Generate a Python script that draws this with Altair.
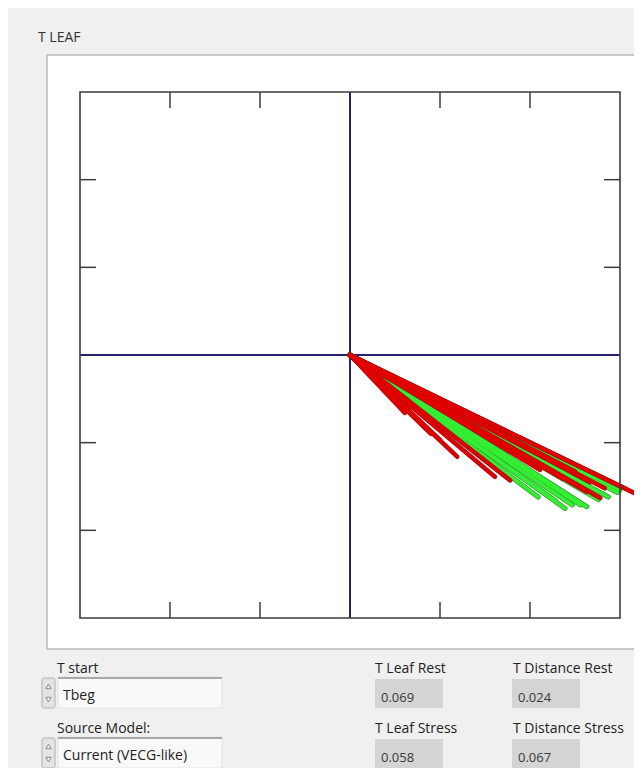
import altair as alt
import pandas as pd

# ---------------- data ----------------
title_text = "T LEAF"

# end points of the traces (each trace starts at the origin)
red_x = [0.61, 0.90, 1.00, 1.19, 1.61, 1.78, 2.11, 2.36, 2.50, 2.63, 2.67, 2.78, 2.83, 3.03, 3.29]
red_y = [-0.66, -0.90, -0.97, -1.16, -1.39, -1.43, -1.31, -1.41, -1.33, -1.56, -1.45, -1.63, -1.52, -1.51, -1.64]
green_x = [2.09, 2.22, 2.28, 2.39, 2.47, 2.56, 2.63, 2.76, 2.87, 2.97, 3.00]
green_y = [-1.62, -1.62, -1.66, -1.75, -1.71, -1.71, -1.73, -1.65, -1.62, -1.57, -1.54]

x_ticks = [-2, -1, 1, 2]
y_ticks = [-2, -1, 1, 2]
axis_domain = [-3, 3]

control_labels = ["T start", "Source Model:"]
control_values = ["Tbeg", "Current (VECG-like)"]
stat_labels = ["T Leaf Rest", "T Distance Rest", "T Leaf Stress", "T Distance Stress"]
stat_values = ["0.069", "0.024", "0.058", "0.067"]

# ---------------- build tables ----------------
def traces(xs, ys, prefix):
    rows = []
    for i, (xe, ye) in enumerate(zip(xs, ys)):
        rows.append({"id": f"{prefix}{i}", "o": 0, "x": 0.0, "y": 0.0})
        rows.append({"id": f"{prefix}{i}", "o": 1, "x": xe, "y": ye})
    return pd.DataFrame(rows)

red_df = traces(red_x, red_y, "r")
green_df = traces(green_x, green_y, "g")
xt_df = pd.DataFrame({"v": x_ticks})
yt_df = pd.DataFrame({"v": y_ticks})
zero_df = pd.DataFrame({"v": [0]})

W, H = 540, 526
FONT = "Open Sans"
xs = alt.Scale(domain=axis_domain, nice=False, zero=False)
ys = alt.Scale(domain=axis_domain, nice=False, zero=False)
X = lambda f: alt.X(f, scale=xs, axis=None)
Y = lambda f: alt.Y(f, scale=ys, axis=None)

dummy = alt.Data(values=[{"k": 1}])


def box(x, y, x2, y2, fill, stroke=None, sw=1, radius=0):
    kw = dict(fill=fill, clip=False)
    if stroke:
        kw.update(stroke=stroke, strokeWidth=sw)
    if radius:
        kw.update(cornerRadius=radius)
    return alt.Chart(dummy).mark_rect(**kw).encode(
        x=alt.value(x), x2=alt.value(x2), y=alt.value(y), y2=alt.value(y2))


def hline(x, x2, y, color, sw):
    return alt.Chart(dummy).mark_rule(color=color, strokeWidth=sw, clip=False).encode(
        x=alt.value(x), x2=alt.value(x2), y=alt.value(y))


def txt(s, x, y, size=14, color="#222222"):
    return alt.Chart(dummy).mark_text(
        text=s, align="left", baseline="alphabetic", font=FONT,
        fontSize=size, color=color, clip=False).encode(x=alt.value(x), y=alt.value(y))


def spinner(x, y, h):
    base = box(x, y, x + 13, y + h, "#e4e4e4", "#b0b0b0", 1, 2)
    up = alt.Chart(dummy).mark_point(shape="triangle-up", filled=True, size=28,
                                     color="#f4f4f4", stroke="#8a8a8a", strokeWidth=1,
                                     opacity=1).encode(
        x=alt.value(x + 6.5), y=alt.value(y + h * 0.28))
    dn = alt.Chart(dummy).mark_point(shape="triangle-down", filled=True, size=28,
                                     color="#f4f4f4", stroke="#8a8a8a", strokeWidth=1,
                                     opacity=1).encode(
        x=alt.value(x + 6.5), y=alt.value(y + h * 0.72))
    return [base, up, dn]


layers = []

# title and white panel
layers.append(txt(title_text, -42, -50, 14, "#333333"))
layers.append(box(-33, -37, 640, 557, "#ffffff", "#c9c9c9", 2))

# crosshair axes
layers.append(alt.Chart(zero_df).mark_rule(color="#24246e", strokeWidth=2).encode(x=X("v:Q")))
layers.append(alt.Chart(zero_df).mark_rule(color="#24246e", strokeWidth=2).encode(y=Y("v:Q")))

# traces: green first, red on top (dark edge + bright core)
def trace_layers(df, edge, core, w_edge, w_core):
    enc = dict(x=X("x:Q"), y=Y("y:Q"), detail="id:N", order="o:Q")
    return [
        alt.Chart(df).mark_line(color=edge, strokeWidth=w_edge, strokeCap="round", clip=False).encode(**enc),
        alt.Chart(df).mark_line(color=core, strokeWidth=w_core, strokeCap="round", clip=False).encode(**enc),
    ]

layers += trace_layers(green_df, "#2f9a2f", "#33ee33", 5.0, 3.6)
layers += trace_layers(red_df, "#a51010", "#e00000", 4.6, 3.2)

# frame
layers.append(alt.Chart(dummy).mark_rect(fill=None, filled=False, stroke="#3c3c3c", strokeWidth=1.6).encode(
    x=alt.value(0), x2=alt.value(W), y=alt.value(0), y2=alt.value(H)))

# inward ticks on all four sides
TL = 16
tick = dict(color="#3c3c3c", strokeWidth=1.5)
layers.append(alt.Chart(xt_df).mark_rule(**tick).encode(x=X("v:Q"), y=alt.value(0), y2=alt.value(TL)))
layers.append(alt.Chart(xt_df).mark_rule(**tick).encode(x=X("v:Q"), y=alt.value(H - TL), y2=alt.value(H)))
layers.append(alt.Chart(yt_df).mark_rule(**tick).encode(y=Y("v:Q"), x=alt.value(0), x2=alt.value(TL)))
layers.append(alt.Chart(yt_df).mark_rule(**tick).encode(y=Y("v:Q"), x=alt.value(W - TL), x2=alt.value(W)))

# ---------------- bottom controls ----------------
for row, (lab, val) in enumerate(zip(control_labels, control_values)):
    dy = row * 60
    layers.append(txt(lab, -23, 581 + dy))
    layers.append(box(-22, 585 + dy, 142, 616 + dy, "#f9f9f9", "#e4e4e4", 1))
    layers.append(hline(-22, 142, 586 + dy, "#a9a9a9", 2))
    layers += spinner(-38, 586 + dy, 30)
    layers.append(txt(val, -17, 608 + dy))

cols = [(295, 295), (433, 432)]
for i, (lab, val) in enumerate(zip(stat_labels, stat_values)):
    r, c = divmod(i, 2)
    lx, bx = cols[c]
    dy = r * 60
    layers.append(txt(lab, lx, 581 + dy))
    layers.append(box(bx, 587 + dy, bx + 68, 616 + dy, "#d4d4d4"))
    layers.append(txt(val, bx + 6, 610 + dy, 13, "#3a3a3a"))

chart = alt.layer(*layers).properties(
    width=W, height=H,
    autosize=alt.AutoSizeParams(type="none"),
    padding={"left": 72, "top": 84, "right": 14, "bottom": 150},
    background="#f0f0f0",
).configure_view(stroke=None)

chart.save("out.html", embed_options={"renderer": "svg", "actions": False})
